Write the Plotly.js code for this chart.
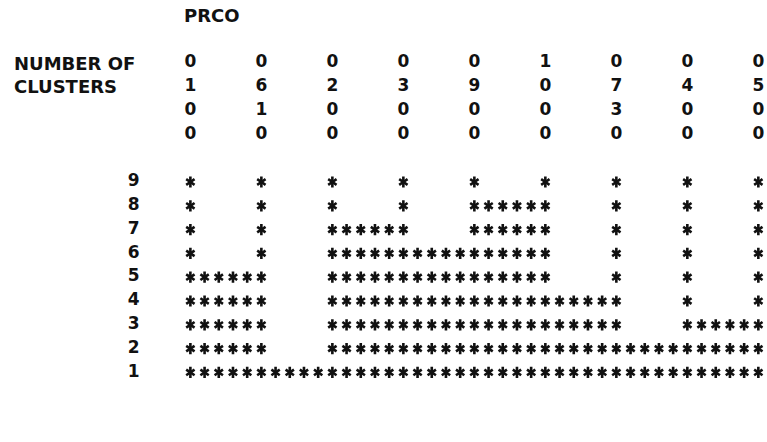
<!DOCTYPE html>
<html>
<head>
<meta charset="utf-8">
<script src="https://cdn.plot.ly/plotly-3.0.1.min.js"></script>
<style>html,body{margin:0;padding:0;background:#fff;}#chart{width:767px;height:442px;}</style>
</head>
<body>
<div id="chart"></div>
<script>
// ---- data ----
const procName = "PRCO";
const headerLines = ["NUMBER OF", "CLUSTERS"];
const objectIds = ["0100", "0610", "0200", "0300", "0900", "1000", "0730", "0400", "0500"];
const clusterCounts = [9, 8, 7, 6, 5, 4, 3, 2, 1];
// number of clusters at (and below) which each pair of neighbouring objects is joined
const mergeLevel = [5, 1, 7, 6, 8, 4, 2, 3];

// ---- character grid of the line-printer output ----
const COL0 = 12, STEP = 5, LABEL_COL = 8;
const FIRST_ROW_LINE = 5;
const FONT = {family: "DejaVu Sans", size: 18, color: "#111", weight: "bold"};
const DIGIT_FONT = {family: "DejaVu Sans", size: 17, color: "#111", weight: "bold"};

// object id digits, written vertically
const idX = [], idY = [], idT = [];
objectIds.forEach((id, i) => {
  id.split("").forEach((ch, j) => { idX.push(COL0 + STEP * i); idY.push(j); idT.push(ch); });
});

// row labels (number of clusters)
const rowLine = n => FIRST_ROW_LINE + (clusterCounts[0] - n);
const labX = clusterCounts.map(() => LABEL_COL);
const labY = clusterCounts.map(rowLine);
const labT = clusterCounts.map(String);

// icicle asterisks
const sx = [], sy = [];
clusterCounts.forEach(n => {
  const line = rowLine(n);
  objectIds.forEach((_, i) => {
    sx.push(COL0 + STEP * i); sy.push(line);
    if (i < mergeLevel.length && mergeLevel[i] >= n) {
      for (let k = 1; k < STEP; k++) { sx.push(COL0 + STEP * i + k); sy.push(line); }
    }
  });
});

const starMarker = sym => ({symbol: sym, size: 7, color: "#111", line: {width: 2.6, color: "#111"}});

const traces = [
  {x: idX, y: idY, text: idT, mode: "text", type: "scatter", textfont: DIGIT_FONT, textposition: "middle center", hoverinfo: "skip"},
  {x: labX, y: labY, text: labT, mode: "text", type: "scatter", textfont: DIGIT_FONT, textposition: "middle center", hoverinfo: "skip"},
  {x: sx, y: sy, mode: "markers", type: "scatter", marker: starMarker("y-up-open"), hoverinfo: "skip"},
  {x: sx, y: sy, mode: "markers", type: "scatter", marker: starMarker("y-down-open"), hoverinfo: "skip"}
];

const annotations = [
  {x: COL0 - 0.5, y: -2, xref: "x", yref: "y", text: procName, showarrow: false, xanchor: "left", yanchor: "middle", font: FONT, borderpad: 0}
].concat(headerLines.map((t, j) => ({
  x: -0.5, y: j, xref: "x", yref: "y", text: t, showarrow: false, xanchor: "left", yanchor: "middle", font: FONT, borderpad: 0
})));

const layout = {
  width: 767, height: 442,
  margin: {l: 0, r: 0, t: 0, b: 0, pad: 0},
  paper_bgcolor: "#fff", plot_bgcolor: "#fff",
  showlegend: false,
  xaxis: {range: [-1.408, 52.61], visible: false, showgrid: false, zeroline: false, fixedrange: true},
  yaxis: {range: [15.924, -2.647], visible: false, showgrid: false, zeroline: false, fixedrange: true},
  annotations: annotations
};

Plotly.newPlot("chart", traces, layout, {displayModeBar: false, staticPlot: true});
</script>
</body>
</html>
